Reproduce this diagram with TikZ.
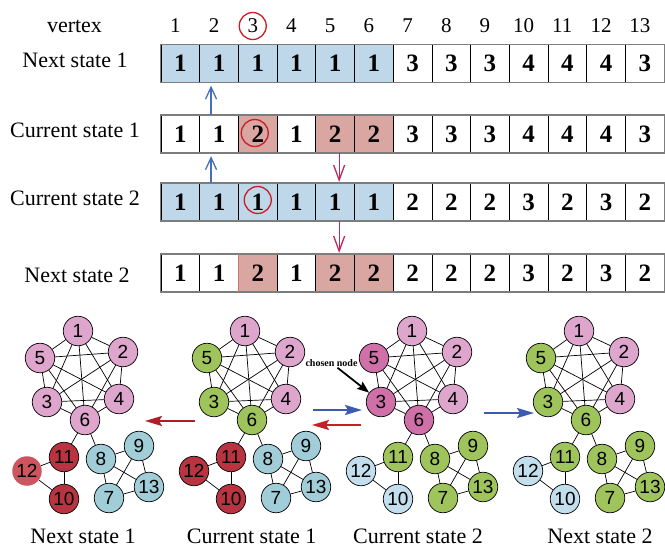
\documentclass[tikz,border=0pt]{standalone}
\usepackage{fontspec}
\setmainfont{Liberation Serif}
\newfontfamily\labfont{Liberation Sans}
\usetikzlibrary{arrows.meta}

% table colours
\definecolor{cellblue}{RGB}{190,215,233}
\definecolor{cellpink}{RGB}{217,166,161}
\definecolor{markred}{RGB}{200,30,40}
\definecolor{arrblue}{RGB}{70,110,190}
\definecolor{arrcrimson}{RGB}{190,40,90}
\definecolor{framegray}{RGB}{125,125,125}
% vertex colours
\definecolor{vpink}{RGB}{222,165,205}
\definecolor{vmag}{RGB}{208,112,168}
\definecolor{vgreen}{RGB}{160,196,92}
\definecolor{vred}{RGB}{185,52,65}
\definecolor{vredsoft}{RGB}{205,85,95}
\definecolor{vblue}{RGB}{160,205,216}
\definecolor{vpale}{RGB}{195,222,236}
\definecolor{flowred}{RGB}{175,30,40}
\definecolor{flowblue}{RGB}{60,90,180}

\tikzset{
  cell/.style={rectangle, draw=black, line width=0.7pt, minimum width=38.7pt,
    minimum height=37.5pt, inner sep=0pt,
    font=\bfseries\fontsize{25}{25}\selectfont},
  rowframe/.style={draw=framegray, line width=1.4pt},
  rowlabel/.style={font=\fontsize{22}{24}\selectfont, inner sep=0pt},
  idxlabel/.style={font=\fontsize{21}{22}\selectfont, inner sep=0pt},
  markring/.style={circle, draw=markred, line width=1.3pt, minimum size=27pt, inner sep=0pt},
  upflow/.style={arrblue, line width=1.3pt, -{Straight Barb[length=12pt,width=11pt]}},
  downflow/.style={arrcrimson, line width=1.3pt, -{Straight Barb[length=15pt,width=11pt]}},
  vtx/.style={circle, draw=black, line width=0.7pt, minimum size=29.5pt, inner sep=0pt,
    font=\labfont\fontsize{19}{19}\selectfont},
  edge/.style={draw=black, line width=0.7pt},
  caption/.style={font=\fontsize{22}{24}\selectfont, inner sep=0pt, anchor=base},
  bigflow/.style={line width=2pt, -{Stealth[length=17pt,width=10pt,inset=3pt]}},
  pinkv/.style={v#1/.style={fill=vpink}},
  magv/.style={v#1/.style={fill=vmag}},
  greenv/.style={v#1/.style={fill=vgreen}},
  redv/.style={v#1/.style={fill=vred}},
  bluev/.style={v#1/.style={fill=vblue}},
  palev/.style={v#1/.style={fill=vpale}},
}

% one row of 13 cells: name, y centre, list value/fill
\newcommand\staterow[3]{%
  \foreach \v/\f [count=\i] in {#3}
    \node[cell, fill=\f] (#1-\i) at ({161+(\i-0.5)*38.7}, #2) {\v};
  \draw[rowframe] (#1-1.north west) rectangle (#1-13.south east);
}

% the 13-vertex network, vertex fills come from styles v1..v13
\newcommand\netgraph[1]{%
  \foreach \n/\x/\y in {1/78/331, 2/123/352, 5/40/358, 3/47/402, 4/119/399,
      6/85/420, 11/64/457, 12/27/471, 10/64/499, 8/101/459, 9/139/446,
      13/149/487, 7/109/498}
    \node[vtx, v\n] (#1-\n) at (\x,\y) {\n};
  \foreach \a/\b in {1/2,1/3,1/4,1/5,1/6,2/3,2/4,2/5,2/6,3/4,3/5,3/6,4/5,4/6,5/6,
      6/11,6/8,11/12,11/10,12/10,8/9,8/7,8/13,9/7,9/13,7/13}
    \draw[edge] (#1-\a) -- (#1-\b);
}

\begin{document}
\begin{tikzpicture}[x=1pt, y=-1pt]
\useasboundingbox (0,0) rectangle (665,549);

% ---------- header row ----------
\node[rowlabel] (hdr) at (74.5,26) {vertex};
\foreach \k in {1,...,13}
  \node[idxlabel] (idx-\k) at ({161+(\k-0.5)*38.7-5}, 26) {\k};
\node[markring] (ring-idx) at (idx-3) {};

% ---------- state rows ----------
\node[rowlabel] (lab-ns1) at (75,60) {Next state 1};
\staterow{ns1}{63.5}{1/cellblue,1/cellblue,1/cellblue,1/cellblue,1/cellblue,1/cellblue,
  3/white,3/white,3/white,4/white,4/white,4/white,3/white}

\node[rowlabel] (lab-cs1) at (75,130) {Current state 1};
\staterow{cs1}{134}{1/white,1/white,2/cellpink,1/white,2/cellpink,2/cellpink,
  3/white,3/white,3/white,4/white,4/white,4/white,3/white}

\node[rowlabel] (lab-cs2) at (75,198) {Current state 2};
\staterow{cs2}{202}{1/cellblue,1/cellblue,1/cellblue,1/cellblue,1/cellblue,1/cellblue,
  2/white,2/white,2/white,3/white,2/white,3/white,2/white}

\node[rowlabel] (lab-ns2) at (77,275) {Next state 2};
\staterow{ns2}{273}{1/white,1/white,2/cellpink,1/white,2/cellpink,2/cellpink,
  2/white,2/white,2/white,3/white,2/white,3/white,2/white}
\draw[draw={rgb,255:red,205;green,120;blue,120}, line width=0.8pt]
  (ns2-3.north west) -- (ns2-3.south west);

% rings on the chosen vertex
\node[markring] (ring-cs1) at ([xshift=-3pt,yshift=1pt]cs1-3.center) {};
\node[markring] (ring-cs2) at ([yshift=2pt]cs2-3.center) {};

% transitions between rows
\draw[upflow] ([xshift=-8pt]cs1-2.north) -- ([xshift=-8pt,yshift=-3pt]ns1-2.south);
\draw[upflow] ([xshift=-8pt]cs2-2.north) -- ([xshift=-8pt,yshift=-3pt]cs1-2.south);
\draw[downflow] ([xshift=4pt]cs1-5.south) -- ([xshift=4pt,yshift=1pt]cs2-5.north);
\draw[downflow] ([xshift=4pt]cs2-5.south) -- ([xshift=4pt,yshift=1pt]ns2-5.north);

% ---------- networks ----------
\begin{scope}[pinkv/.list={1,2,3,4,5,6}, bluev/.list={7,8,9,13}, redv/.list={10,11},
    v12/.style={fill=vredsoft, draw=none}]
  \netgraph{ga}
\end{scope}
\begin{scope}[xshift=167pt, pinkv/.list={1,2,4}, greenv/.list={3,5,6},
    bluev/.list={7,8,9,13}, redv/.list={10,11,12}]
  \netgraph{gb}
\end{scope}
\begin{scope}[xshift=334pt, pinkv/.list={1,2,4}, magv/.list={3,5,6},
    greenv/.list={7,8,9,11,13}, palev/.list={10,12}]
  \netgraph{gc}
\end{scope}
\begin{scope}[xshift=501pt, pinkv/.list={1,2,4}, greenv/.list={3,5,6,7,8,9,11,13},
    palev/.list={10,12}]
  \netgraph{gd}
\end{scope}

\node[caption] (cap-a) at (83,543.5) {Next state 1};
\node[caption] (cap-b) at (251.7,543.5) {Current state 1};
\node[caption] (cap-c) at (418,543.5) {Current state 2};
\node[caption] (cap-d) at (600,543.5) {Next state 2};

% flows between networks
\coordinate (fa-s) at (195,421);  \coordinate (fa-e) at (145,421);
\coordinate (fb-s) at (313,410);  \coordinate (fb-e) at (362,410);
\coordinate (fc-s) at (361,425);  \coordinate (fc-e) at (312,425);
\coordinate (fd-s) at (484,413);  \coordinate (fd-e) at (534,413);
\draw[bigflow, flowred] (fa-s) -- (fa-e);
\draw[bigflow, flowblue] (fb-s) -- (fb-e);
\draw[bigflow, markred] (fc-s) -- (fc-e);
\draw[bigflow, flowblue] (fd-s) -- (fd-e);

% chosen node pointer
\node[font=\bfseries\fontsize{10}{11}\selectfont, inner sep=1pt] (chosen) at (331.5,363) {chosen node};
\draw[line width=1.8pt, -{Stealth[length=12pt,width=9pt,inset=2pt]}]
  (chosen) -- (gc-3);
\end{tikzpicture}
\end{document}
